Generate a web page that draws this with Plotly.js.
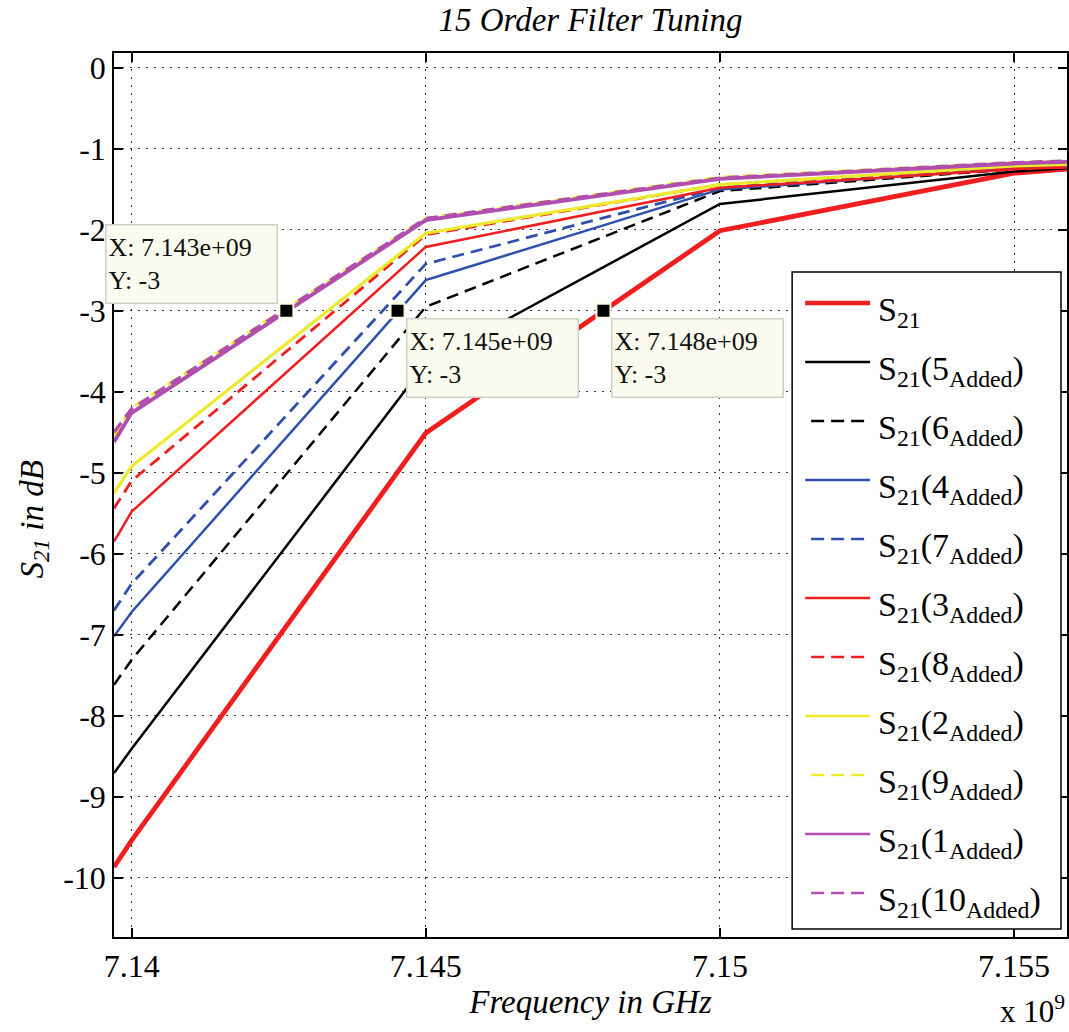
<!DOCTYPE html>
<html>
<head>
<meta charset="utf-8">
<script src="https://cdn.plot.ly/plotly-3.0.1.min.js"></script>
<style>
  html, body { margin: 0; padding: 0; background: #fff; }
  #chart { width: 1069px; height: 1032px; }
</style>
</head>
<body>
<div id="chart"></div>
<script>
// Frequency samples (Hz): axis edges plus the 5 MHz sweep points
const freq = [7.1397e9, 7.14e9, 7.145e9, 7.15e9, 7.155e9, 7.1559e9];

// |S21| in dB for the base filter and each tuning step
const s21        = [-9.87, -9.54, -4.51, -2.01, -1.30, -1.25];
const s21Added5  = [-8.71, -8.41, -3.65, -1.68, -1.28, -1.24];
const s21Added6  = [-7.62, -7.31, -2.95, -1.52, -1.25, -1.22];
const s21Added4  = [-7.02, -6.72, -2.62, -1.50, -1.24, -1.21];
const s21Added7  = [-6.70, -6.37, -2.42, -1.48, -1.23, -1.20];
const s21Added3  = [-5.85, -5.48, -2.21, -1.48, -1.25, -1.23];
const s21Added8  = [-5.44, -5.10, -2.06, -1.44, -1.22, -1.20];
const s21Added2  = [-5.25, -4.92, -2.04, -1.44, -1.21, -1.19];
const s21Added9  = [-4.55, -4.20, -1.86, -1.35, -1.17, -1.15];
const s21Added1  = [-4.62, -4.26, -1.88, -1.37, -1.18, -1.16];
const s21Added10 = [-4.50, -4.21, -1.86, -1.36, -1.17, -1.15];

// Number of added resonators for each curve (null = base response)
const addedCounts = [null, 5, 6, 4, 7, 3, 8, 2, 9, 1, 10];

// Axis ticks
const xTickVals   = [7.14e9, 7.145e9, 7.15e9, 7.155e9];
const xTickLabels = ['7.14', '7.145', '7.15', '7.155'];
const yTickVals   = [0, -1, -2, -3, -4, -5, -6, -7, -8, -9, -10];
const yTickLabels = ['0', '-1', '-2', '-3', '-4', '-5', '-6', '-7', '-8', '-9', '-10'];

// Data cursors placed at the -3 dB crossings
const tipX = [7.14263e9, 7.14452e9, 7.14802e9];
const tipY = [-3, -3, -3];

const RED = '#f01e1e', BLACK = '#000000', BLUE = '#2f4fad', YELLOW = '#ebeb2c', PURPLE = '#b04eb0';
const DASH = '12px,7px';

const seriesY = [s21, s21Added5, s21Added6, s21Added4, s21Added7, s21Added3,
                 s21Added8, s21Added2, s21Added9, s21Added1, s21Added10];
const styles = [
  { color: RED,    width: 4.8, dash: 'solid' },
  { color: BLACK,  width: 2.5, dash: 'solid' },
  { color: BLACK,  width: 2.5, dash: DASH },
  { color: BLUE,   width: 2.5, dash: 'solid' },
  { color: BLUE,   width: 2.8, dash: DASH },
  { color: RED,    width: 2.5, dash: 'solid' },
  { color: RED,    width: 2.8, dash: DASH },
  { color: YELLOW, width: 3.2, dash: 'solid' },
  { color: YELLOW, width: 3.2, dash: DASH },
  { color: PURPLE, width: 3.8, dash: 'solid' },
  { color: PURPLE, width: 3.4, dash: DASH }
];

function legendLabel(n) {
  return n === null ? 'S<sub>21</sub>' : 'S<sub>21</sub>(' + n + '<sub>Added</sub>)';
}

const traces = seriesY.map((y, i) => ({
  type: 'scatter',
  mode: 'lines',
  x: freq,
  y: y,
  name: legendLabel(addedCounts[i]),
  showlegend: false,
  line: { color: styles[i].color, width: styles[i].width, dash: styles[i].dash },
  hoverinfo: 'skip'
}));

traces.push({
  type: 'scatter',
  mode: 'markers',
  x: tipX,
  y: tipY,
  showlegend: false,
  hoverinfo: 'skip',
  marker: { symbol: 'square', size: 14, color: '#000', line: { color: '#fbfbe0', width: 2 } }
});

// Plot-area geometry in pixels, used to place the legend box in paper units
const W = 1069, H = 1032;
const M = { l: 113.5, r: 2, t: 53, b: 95 };
const PW = W - M.l - M.r, PH = H - M.t - M.b;
const px = v => (v - M.l) / PW;
const py = v => 1 - (v - M.t) / PH;

const serif = 'Liberation Serif, Times New Roman, serif';
const shapes = [];
const annotations = [];

// Legend box
const LEG = { x0: 792, x1: 1061, y0: 272, y1: 929, first: 303, step: 59, lineX0: 805, lineX1: 870, textX: 876 };
shapes.push({
  type: 'rect', xref: 'paper', yref: 'paper',
  x0: px(LEG.x0), x1: px(LEG.x1), y0: py(LEG.y1), y1: py(LEG.y0),
  line: { color: '#000', width: 1.5 }, fillcolor: '#fff', layer: 'above'
});
addedCounts.forEach((n, i) => {
  const yc = LEG.first + i * LEG.step;
  const dashed = styles[i].dash !== 'solid';
  shapes.push({
    type: 'line', xref: 'paper', yref: 'paper', layer: 'above',
    x0: px(dashed ? LEG.lineX0 + 6 : LEG.lineX0), x1: px(LEG.lineX1), y0: py(yc), y1: py(yc),
    line: { color: styles[i].color, width: i === 0 ? 4.5 : 2.6, dash: dashed ? '13px,7px' : 'solid' }
  });
  annotations.push({
    xref: 'paper', yref: 'paper', x: px(LEG.textX), y: py(yc + 9),
    xanchor: 'left', yanchor: 'middle', showarrow: false,
    text: legendLabel(n), font: { family: serif, size: 34, color: '#000' }
  });
});

// Data-cursor boxes
function fmtX(v) {
  return v.toExponential(3).replace(/e\+(\d)$/, 'e+0$1');
}
tipX.forEach((xv, i) => {
  const upLeft = i === 0;
  annotations.push({
    xref: 'x', yref: 'y', x: xv, y: tipY[i],
    xanchor: upLeft ? 'right' : 'left', yanchor: upLeft ? 'bottom' : 'top',
    xshift: upLeft ? -8 : 8, yshift: upLeft ? 7 : -7,
    showarrow: false, align: 'left', valign: 'middle',
    width: 166, height: 73,
    text: 'X: ' + fmtX(xv) + '<br>Y: ' + tipY[i],
    font: { family: serif, size: 26, color: '#111' },
    bgcolor: '#fbfbef', bordercolor: '#cfcfc6', borderwidth: 1.5, borderpad: 2
  });
});

// Exponent label for the frequency axis
annotations.push({
  xref: 'paper', yref: 'paper', x: 1, y: py(1010), xanchor: 'right', yanchor: 'middle',
  showarrow: false, text: 'x 10<sup>9</sup>', font: { family: serif, size: 31, color: '#000' }
});

// Vertical axis label
annotations.push({
  xref: 'paper', yref: 'paper', x: px(33), y: py(520), xanchor: 'center', yanchor: 'middle',
  textangle: -90, showarrow: false,
  text: '<i>S<sub>21</sub> in dB</i>', font: { family: serif, size: 33, color: '#000' }
});

const axisCommon = {
  showline: true, linecolor: '#000', linewidth: 1.5, mirror: 'allticks',
  ticks: 'inside', ticklen: 9, tickwidth: 1.5, tickcolor: '#000',
  showgrid: true, gridcolor: '#333', gridwidth: 1, griddash: '2px,6px',
  zeroline: false, tickmode: 'array',
  tickfont: { family: serif, size: 32, color: '#000' }
};

const layout = {
  width: W, height: H,
  margin: M,
  paper_bgcolor: '#fff', plot_bgcolor: '#fff',
  showlegend: false,
  title: {
    text: '<i>15 Order Filter Tuning</i>',
    font: { family: serif, size: 33, color: '#000' },
    x: 0.5, xref: 'paper', xanchor: 'center',
    y: 1 - 19 / H, yref: 'container', yanchor: 'middle'
  },
  xaxis: Object.assign({}, axisCommon, {
    range: [freq[0], freq[freq.length - 1]],
    tickvals: xTickVals, ticktext: xTickLabels,
    title: { text: '<i>Frequency in GHz</i>', font: { family: serif, size: 33, color: '#000' }, standoff: 2 }
  }),
  yaxis: Object.assign({}, axisCommon, {
    range: [-10.734, 0.185],
    tickvals: yTickVals, ticktext: yTickLabels
  }),
  shapes: shapes,
  annotations: annotations
};

Plotly.newPlot('chart', traces, layout, { displayModeBar: false });
</script>
</body>
</html>
